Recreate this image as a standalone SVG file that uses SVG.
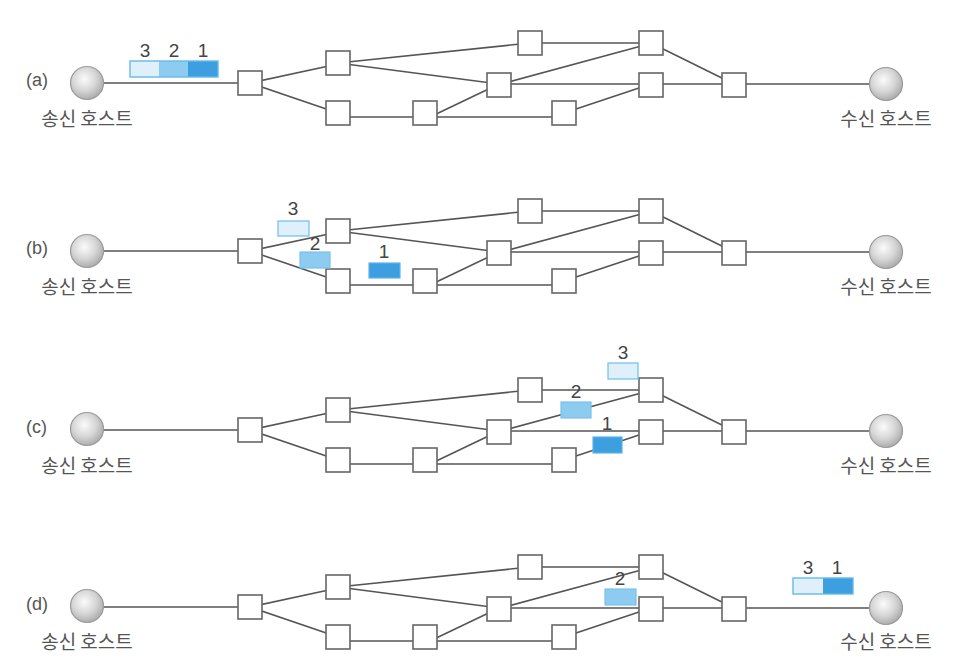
<svg xmlns="http://www.w3.org/2000/svg" width="960" height="672" viewBox="0 0 960 672">
<defs>
<radialGradient id="host" cx="0.42" cy="0.38" r="0.65">
<stop offset="0" stop-color="#fbfbfb"/>
<stop offset="0.55" stop-color="#d6d6d6"/>
<stop offset="1" stop-color="#a9a9a9"/>
</radialGradient>
<style>
.bg{fill:#ffffff}
.ln{stroke:#555555;stroke-width:1.6;fill:none}
.bx{fill:#ffffff;stroke:#666666;stroke-width:1.6}
.host{fill:url(#host);stroke:#9a9a9a;stroke-width:1.2}
.hl{font-family:"Noto Sans CJK KR","Noto Sans",sans-serif;font-size:19px;fill:#555555;text-anchor:middle}
.rl{font-family:"Liberation Sans",Arial,sans-serif;font-size:18px;fill:#555555}
.num{font-family:"Liberation Sans",Arial,sans-serif;font-size:19px;fill:#444444;text-anchor:middle}
.p1{fill:#3d9fdf;stroke:#5cb5e8;stroke-width:1.2}
.p2{fill:#8ecbf0;stroke:#79c2ec;stroke-width:1.2}
.p3{fill:#e0f0fb;stroke:#6cc0ec;stroke-width:1.2}
.pf1{fill:#3d9fdf}
.pf2{fill:#8ecbf0}
.pf3{fill:#e0f0fb}
.pout{fill:none;stroke:#62bbe9;stroke-width:1.4}
</style>
<g id="edges">
<line class="ln" x1="103" y1="83" x2="240" y2="83"/>
<line class="ln" x1="250" y1="83" x2="338" y2="64"/>
<line class="ln" x1="250" y1="83" x2="338" y2="113"/>
<line class="ln" x1="338" y1="63" x2="530" y2="43"/>
<line class="ln" x1="338" y1="63" x2="499" y2="84"/>
<line class="ln" x1="338" y1="117" x2="564" y2="117"/>
<line class="ln" x1="430" y1="117" x2="499" y2="84"/>
<line class="ln" x1="530" y1="43" x2="651" y2="43"/>
<line class="ln" x1="505" y1="83" x2="645" y2="45"/>
<line class="ln" x1="499" y1="84" x2="734" y2="84"/>
<line class="ln" x1="564" y1="113" x2="651" y2="84"/>
<line class="ln" x1="651" y1="43" x2="734" y2="84"/>
<line class="ln" x1="734" y1="84" x2="872" y2="84"/>
</g>
<g id="nodes">
<rect class="bx" x="238" y="71" width="24" height="24"/>
<rect class="bx" x="326" y="51" width="24" height="24"/>
<rect class="bx" x="326" y="101" width="24" height="24"/>
<rect class="bx" x="413" y="101" width="24" height="24"/>
<rect class="bx" x="518" y="31" width="24" height="24"/>
<rect class="bx" x="639" y="31" width="24" height="24"/>
<rect class="bx" x="487" y="73" width="24" height="24"/>
<rect class="bx" x="639" y="73" width="24" height="24"/>
<rect class="bx" x="722" y="73" width="24" height="24"/>
<rect class="bx" x="552" y="101" width="24" height="24"/>
</g>
</defs>
<rect class="bg" x="0" y="0" width="960" height="672"/>

<g id="row-a">
<text class="rl" x="26" y="86">(a)</text>
<g id="a-connectors"><use href="#edges"/></g>
<g id="a-switches"><use href="#nodes"/></g>
<g id="a-sender"><circle class="host" cx="87" cy="83" r="16.5"/><text class="hl" x="87" y="126">송신 호스트</text></g>
<g id="a-receiver"><circle class="host" cx="886" cy="84" r="16.5"/><text class="hl" x="886" y="126">수신 호스트</text></g>
<g id="a-packets">
<rect class="pf3" x="130" y="61" width="29" height="16"/>
<rect class="pf2" x="159" y="61" width="29" height="16"/>
<rect class="pf1" x="188" y="61" width="30" height="16"/>
<rect class="pout" x="130" y="61" width="88" height="16"/>
<text class="num" x="145" y="57">3</text>
<text class="num" x="174" y="57">2</text>
<text class="num" x="203" y="57">1</text>
</g>
</g>

<g id="row-b" transform="translate(0,168)">
<text class="rl" x="26" y="86">(b)</text>
<g id="b-connectors"><use href="#edges"/></g>
<g id="b-switches"><use href="#nodes"/></g>
<g id="b-sender"><circle class="host" cx="87" cy="83" r="16.5"/><text class="hl" x="87" y="126">송신 호스트</text></g>
<g id="b-receiver"><circle class="host" cx="886" cy="84" r="16.5"/><text class="hl" x="886" y="126">수신 호스트</text></g>
<g id="b-packets">
<rect class="p3" x="278" y="53" width="31" height="15"/>
<text class="num" x="293" y="47">3</text>
<rect class="p2" x="300" y="84" width="30" height="16"/>
<text class="num" x="315" y="82">2</text>
<rect class="p1" x="369" y="95" width="31" height="15"/>
<text class="num" x="384" y="90">1</text>
</g>
</g>

<g id="row-c" transform="translate(0,347)">
<text class="rl" x="26" y="86">(c)</text>
<g id="c-connectors"><use href="#edges"/></g>
<g id="c-switches"><use href="#nodes"/></g>
<g id="c-sender"><circle class="host" cx="87" cy="82" r="16.5"/><text class="hl" x="87" y="126">송신 호스트</text></g>
<g id="c-receiver"><circle class="host" cx="886" cy="84" r="16.5"/><text class="hl" x="886" y="126">수신 호스트</text></g>
<g id="c-packets">
<rect class="p3" x="608" y="16" width="30" height="16"/>
<text class="num" x="623" y="12">3</text>
<rect class="p2" x="561" y="55" width="30" height="16"/>
<text class="num" x="576" y="51">2</text>
<rect class="p1" x="593" y="90" width="29" height="16"/>
<text class="num" x="607" y="83">1</text>
</g>
</g>

<g id="row-d" transform="translate(0,524)">
<text class="rl" x="26" y="86">(d)</text>
<g id="d-connectors"><use href="#edges"/></g>
<g id="d-switches"><use href="#nodes"/></g>
<g id="d-sender"><circle class="host" cx="87" cy="82" r="16.5"/><text class="hl" x="87" y="125">송신 호스트</text></g>
<g id="d-receiver"><circle class="host" cx="886" cy="84" r="16.5"/><text class="hl" x="886" y="125">수신 호스트</text></g>
<g id="d-packets">
<rect class="p2" x="605" y="65" width="31" height="16"/>
<text class="num" x="620" y="61">2</text>
<rect class="pf3" x="793" y="54" width="30" height="16"/>
<rect class="pf1" x="823" y="54" width="30" height="16"/>
<rect class="pout" x="793" y="54" width="60" height="16"/>
<text class="num" x="808" y="50">3</text>
<text class="num" x="837" y="50">1</text>
</g>
</g>
</svg>
